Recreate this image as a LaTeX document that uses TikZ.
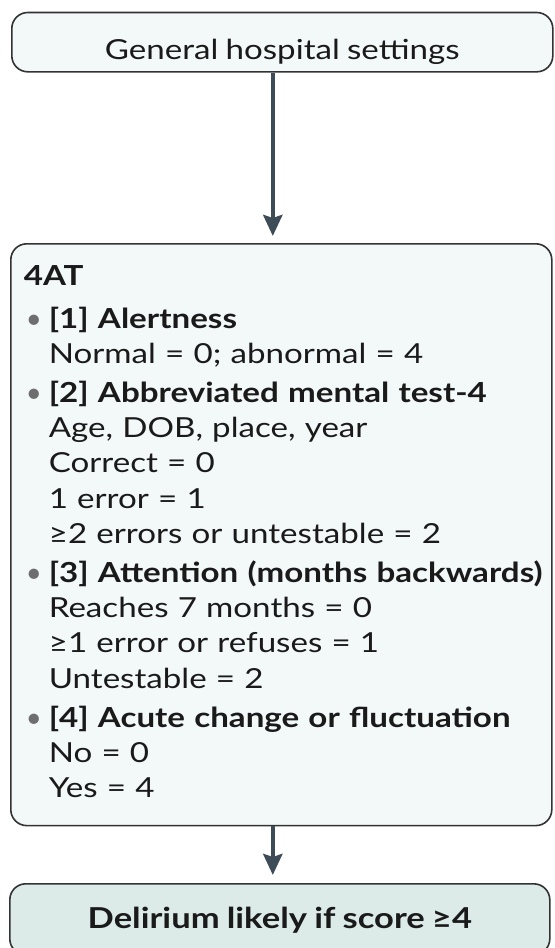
\documentclass[tikz,border=0pt]{standalone}
\usepackage{fontspec}
\setmainfont{Lato}[FakeStretch=1.2, WordSpace=0.85]
\newfontfamily\dotfont{Lato}
\usepackage{tikz}
\usetikzlibrary{arrows.meta, positioning}

\definecolor{panelfill}{HTML}{F3F8F8}
\definecolor{resultfill}{HTML}{DCEBE8}
\definecolor{arrowgray}{HTML}{3E4C57}
\definecolor{dotgray}{HTML}{6E6E6E}
\definecolor{edgegray}{HTML}{333333}
\definecolor{inkblack}{HTML}{1A1A1A}

\newcommand{\crit}[1]{\makebox[12.5pt][l]{\hspace{1pt}\textcolor{dotgray}{\dotfont\textbullet}}\mbox{\textbf{#1}}}
\newcommand{\score}[1]{\hspace*{12.5pt}\mbox{#1}}

\begin{document}
\begin{tikzpicture}[
    panel/.style={draw=edgegray, line width=0.8pt, fill=panelfill, rounded corners=8pt, text=inkblack, inner ysep=0pt},
    result/.style={panel, fill=resultfill},
    flow/.style={draw=arrowgray, line width=2.2pt, -{Stealth[width=9.5pt, length=10.5pt, inset=1.5pt]}},
    txt/.style={font=\fontsize{13.8pt}{17.6pt}\selectfont}
  ]
    % Canvas
    \useasboundingbox (0,0) rectangle (277pt,-474pt);

    % Setting
    \node[panel, txt, anchor=north west, minimum width=270.5pt, inner xsep=0pt,
          text height=23.3pt, text depth=6.35pt] (setting) at (5.5pt,-5.85pt)
          {General hospital settings};

    % 4AT items
    \node[panel, txt, anchor=north west, text width=257.5pt, inner xsep=6.5pt, align=left] (fourat) at (5pt,-121.5pt) {
        \rule{0pt}{21pt}\textbf{4AT}\\[3.5pt]
        \crit{[1] Alertness}\\
        \score{Normal = 0; abnormal = 4}\\[2pt]
        \crit{[2] Abbreviated mental test-4}\\
        \score{Age, DOB, place, year}\\
        \score{Correct = 0}\\
        \score{1 error = 1}\\
        \score{≥2 errors or untestable = 2}\\[2pt]
        \crit{[3] Attention (months backwards)}\\
        \score{Reaches 7 months = 0}\\
        \score{≥1 error or refuses = 1}\\
        \score{Untestable = 2}\\[2pt]
        \crit{[4] Acute change or fluctuation}\\
        \score{No = 0}\\
        \score{Yes = 4}\rule[-14pt]{0pt}{14pt}
    };

    % Outcome
    \node[result, font=\fontsize{14.4pt}{17.6pt}\selectfont, anchor=north west, minimum width=270pt, inner xsep=0pt,
          text height=22.5pt, text depth=13pt] (verdict) at (4.5pt,-441.5pt)
          {\textbf{Delirium likely if score ≥4}};

    % Arrows
    \draw[flow, shorten >=3.5pt] ([xshift=-4.75pt]setting.south) -- ([xshift=-4.25pt]fourat.north);
    \draw[flow, shorten >=4pt] ([xshift=-4.25pt]fourat.south) -- ([xshift=-3.5pt]verdict.north);
\end{tikzpicture}
\end{document}
